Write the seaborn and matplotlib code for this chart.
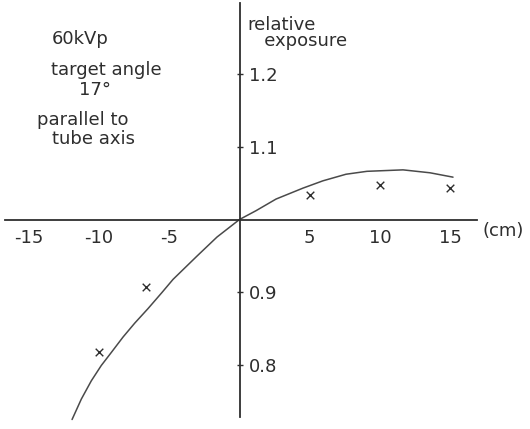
import matplotlib
matplotlib.use("Agg")
import matplotlib.pyplot as plt
import pandas as pd
import seaborn as sns

# Fitted exposure curve (distance from central ray in cm vs. relative exposure)
curve_distance = [-11.92, -11.26, -10.55, -9.84, -9.12, -8.29, -7.46, -6.51, -5.52, -4.73,
                  -3.02, -1.60, 0.0, 1.17, 2.60, 4.52, 5.94, 7.58, 9.07, 11.64, 13.56, 15.2]
curve_exposure = [0.726, 0.754, 0.779, 0.800, 0.818, 0.839, 0.858, 0.878, 0.900, 0.918,
                  0.950, 0.976, 1.000, 1.012, 1.028, 1.043, 1.053, 1.062, 1.066, 1.068,
                  1.064, 1.058]

# Measured points
meas_distance = [-10.0, -6.65, 5.0, 10.0, 15.0]
meas_exposure = [0.818, 0.907, 1.034, 1.047, 1.043]

x_ticks = [-15, -10, -5, 5, 10, 15]
x_tick_labels = ["-15", "-10", "-5", "5", "10", "15"]
y_ticks = [0.8, 0.9, 1.1, 1.2]
y_tick_labels = ["0.8", "0.9", "1.1", "1.2"]

notes = ["60kVp", "target angle", "17°", "parallel to", "tube axis"]

sns.set_theme(style="white")
plt.rcParams["font.family"] = ["DejaVu Sans"]

ink = "#2e2e2e"

fig = plt.figure(figsize=(5.3, 4.29), dpi=100)
ax = fig.add_axes([0, 0, 1, 1])
ax.patch.set_visible(False)

curve = pd.DataFrame({"distance": curve_distance, "exposure": curve_exposure})
meas = pd.DataFrame({"distance": meas_distance, "exposure": meas_exposure})

sns.lineplot(data=curve, x="distance", y="exposure", ax=ax, color="#4a4a4a",
             linewidth=1.1, sort=False, estimator=None)
sns.scatterplot(data=meas, x="distance", y="exposure", ax=ax, marker="x",
                color=ink, s=30, linewidth=1.0)

ax.set_xlim(-17.05, 20.68)
ax.set_ylim(0.7130, 1.3007)

# Cross-shaped axes through the origin (0, 1.0)
ax.spines["top"].set_visible(False)
ax.spines["left"].set_visible(False)
ax.spines["bottom"].set_position(("data", 1.0))
ax.spines["bottom"].set_bounds(-16.69, 16.9)
ax.spines["right"].set_position(("data", 0.0))
ax.spines["right"].set_bounds(0.7295, 1.297)
for side in ("bottom", "right"):
    ax.spines[side].set_visible(True)
    ax.spines[side].set_color(ink)
    ax.spines[side].set_linewidth(1.3)

ax.yaxis.set_ticks_position("right")
ax.set_xticks(x_ticks, x_tick_labels)
ax.set_yticks(y_ticks, y_tick_labels)
ax.tick_params(axis="both", direction="inout", length=5, width=1.0, color=ink,
               labelcolor=ink, labelsize=13)
ax.tick_params(axis="x", pad=4)
ax.tick_params(axis="y", pad=4.5)
ax.set_xlabel("")
ax.set_ylabel("")

ax.text(18.75, 0.984, "(cm)", ha="center", va="center", fontsize=13, color=ink)
# Axis title, second line indented under the first
ax.text(0.534, 1.238, "relative\n   exposure", ha="left", va="baseline",
        fontsize=13, color=ink, linespacing=0.82)

note_x = [80, 106, 95, 83, 94]
note_base = [44.5, 75, 95, 125, 144]
for txt, px, py in zip(notes, note_x, note_base):
    ax.text(px, 429 - py, txt, transform=None, ha="center", va="baseline",
            fontsize=13, color=ink)

fig.savefig("out.png", dpi=100)
